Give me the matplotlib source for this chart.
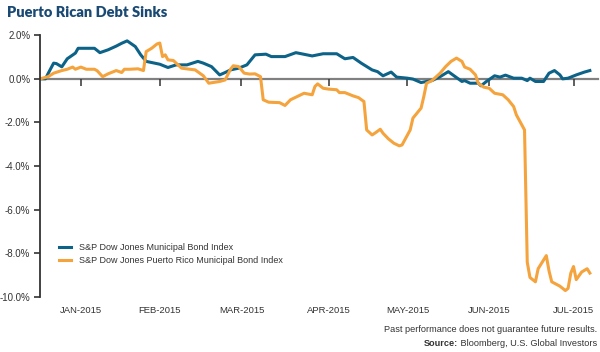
import pandas as pd
import matplotlib
matplotlib.use("Agg")
import matplotlib.pyplot as plt
from matplotlib.transforms import blended_transform_factory

muni_dates = [
    "2014-12-31", "2015-01-02", "2015-01-03", "2015-01-05", "2015-01-06", "2015-01-08",
    "2015-01-10", "2015-01-13", "2015-01-14", "2015-01-17", "2015-01-20", "2015-01-22",
    "2015-01-25", "2015-01-28", "2015-01-30", "2015-02-01", "2015-02-04", "2015-02-06",
    "2015-02-08", "2015-02-13", "2015-02-16", "2015-02-19", "2015-02-23", "2015-02-27",
    "2015-03-01", "2015-03-04", "2015-03-07", "2015-03-09", "2015-03-11", "2015-03-14",
    "2015-03-17", "2015-03-20", "2015-03-24", "2015-03-26", "2015-03-31", "2015-04-04",
    "2015-04-08", "2015-04-10", "2015-04-14", "2015-04-19", "2015-04-22", "2015-04-25",
    "2015-04-28", "2015-05-02", "2015-05-04", "2015-05-06", "2015-05-09", "2015-05-11",
    "2015-05-15", "2015-05-17", "2015-05-20", "2015-05-22", "2015-05-24", "2015-05-27",
    "2015-05-30", "2015-06-01", "2015-06-04", "2015-06-05", "2015-06-07", "2015-06-10",
    "2015-06-11", "2015-06-13", "2015-06-16", "2015-06-18", "2015-06-20", "2015-06-23",
    "2015-06-26", "2015-06-28", "2015-06-29", "2015-07-01", "2015-07-04", "2015-07-06",
    "2015-07-08", "2015-07-10", "2015-07-11", "2015-07-13", "2015-07-16", "2015-07-19",
    "2015-07-21",
]
muni_values = [
    0, 0, 0.25, 0.72, 0.7, 0.55, 0.92, 1.18, 1.4, 1.4,
    1.4, 1.2, 1.33, 1.5, 1.63, 1.74, 1.48, 1.1, 0.8, 0.67,
    0.52, 0.64, 0.64, 0.8, 0.72, 0.56, 0.18, 0.29, 0.41, 0.49,
    0.64, 1.1, 1.13, 1.02, 1.02, 1.2, 1.1, 1.05, 1.15, 1.15,
    0.92, 0.98, 0.72, 0.41, 0.33, 0.14, 0.31, 0.08, 0.03, -0.01,
    -0.17, -0.12, -0.08, 0.1, 0.33, 0.15, -0.12, -0.08, -0.2, -0.2,
    -0.32, -0.12, 0.14, 0.08, 0.17, 0.03, 0.03, -0.08, 0.03, -0.12,
    -0.12, 0.26, 0.38, 0.18, 0, 0.03, 0.18, 0.31, 0.38,
]

pr_dates = [
    "2014-12-31", "2015-01-03", "2015-01-05", "2015-01-08", "2015-01-10", "2015-01-12",
    "2015-01-13", "2015-01-15", "2015-01-17", "2015-01-20", "2015-01-21", "2015-01-23",
    "2015-01-25", "2015-01-28", "2015-01-30", "2015-01-31", "2015-02-02", "2015-02-05",
    "2015-02-07", "2015-02-08", "2015-02-10", "2015-02-12", "2015-02-13", "2015-02-14",
    "2015-02-15", "2015-02-16", "2015-02-18", "2015-02-19", "2015-02-21", "2015-02-24",
    "2015-02-26", "2015-03-01", "2015-03-03", "2015-03-07", "2015-03-09", "2015-03-11",
    "2015-03-12", "2015-03-14", "2015-03-16", "2015-03-18", "2015-03-20", "2015-03-22",
    "2015-03-23", "2015-03-25", "2015-03-29", "2015-03-31", "2015-04-02", "2015-04-05",
    "2015-04-07", "2015-04-10", "2015-04-11", "2015-04-12", "2015-04-14", "2015-04-16",
    "2015-04-19", "2015-04-20", "2015-04-22", "2015-04-25", "2015-04-27", "2015-04-29",
    "2015-04-30", "2015-05-02", "2015-05-03", "2015-05-05", "2015-05-06", "2015-05-08",
    "2015-05-10", "2015-05-12", "2015-05-13", "2015-05-14", "2015-05-16", "2015-05-17",
    "2015-05-20", "2015-05-21", "2015-05-22", "2015-05-24", "2015-05-27", "2015-05-29",
    "2015-05-31", "2015-06-02", "2015-06-04", "2015-06-05", "2015-06-07", "2015-06-09",
    "2015-06-10", "2015-06-12", "2015-06-14", "2015-06-16", "2015-06-19", "2015-06-21",
    "2015-06-23", "2015-06-24", "2015-06-26", "2015-06-27", "2015-06-28", "2015-06-29",
    "2015-07-01", "2015-07-02", "2015-07-04", "2015-07-05", "2015-07-06", "2015-07-07",
    "2015-07-10", "2015-07-12", "2015-07-13", "2015-07-14", "2015-07-15", "2015-07-16",
    "2015-07-18", "2015-07-20", "2015-07-21",
]
pr_values = [
    0, 0.1, 0.26, 0.38, 0.44, 0.54, 0.44, 0.54, 0.44, 0.44,
    0.37, 0.1, 0.23, 0.38, 0.29, 0.44, 0.44, 0.46, 0.38, 1.25,
    1.4, 1.6, 1.64, 1.02, 1.1, 0.87, 0.84, 0.72, 0.49, 0.44,
    0.41, 0.14, -0.2, -0.12, -0.05, 0.44, 0.6, 0.56, 0.26, 0.22,
    0.23, 0.1, -0.96, -1.07, -1.09, -1.22, -0.96, -0.78, -0.66, -0.73,
    -0.35, -0.23, -0.43, -0.47, -0.5, -0.63, -0.63, -0.78, -0.86, -1.04,
    -2.34, -2.57, -2.49, -2.31, -2.49, -2.75, -2.95, -3.07, -3.03, -2.8,
    -2.34, -1.8, -1.34, -0.81, -0.2, -0.08, 0.26, 0.56, 0.8, 0.95,
    0.8, 0.54, 0.44, 0.18, -0.2, -0.38, -0.43, -0.66, -0.73, -0.96,
    -1.27, -1.65, -2.11, -2.34, -8.4, -9.1, -9.3, -8.7, -8.3, -8.1,
    -8.8, -9.3, -9.5, -9.7, -9.6, -8.9, -8.6, -9.2, -8.85, -8.7,
    -8.9,
]

tick_dates = ["2015-01-15", "2015-02-13", "2015-03-15", "2015-04-16",
              "2015-05-15", "2015-06-14", "2015-07-15"]
tick_labels = ["JAN-2015", "FEB-2015", "MAR-2015", "APR-2015",
               "MAY-2015", "JUN-2015", "JUL-2015"]
y_ticks = [2, 0, -2, -4, -6, -8, -10]

BLUE = "#0d6288"
ORANGE = "#f5a33c"
TEXT = "#333333"

plt.rcParams["font.family"] = ["Liberation Sans", "DejaVu Sans"]

fig = plt.figure(figsize=(6, 3.52), dpi=100)
ax = fig.add_axes([0.0667, 0.156, 0.93, 0.744])

ax.plot(pd.to_datetime(muni_dates), muni_values, color=BLUE, lw=2.2,
        label="S&P Dow Jones Municipal Bond Index", solid_joinstyle="round")
ax.plot(pd.to_datetime(pr_dates), pr_values, color=ORANGE, lw=2.2,
        label="S&P Dow Jones Puerto Rico Municipal Bond Index", solid_joinstyle="round")

ax.set_xlim(pd.Timestamp("2014-12-31"), pd.Timestamp("2015-07-24"))
ax.set_ylim(-10, 2)

ax.set_yticks(y_ticks)
ax.set_yticklabels([f"{v:.1f}%" for v in y_ticks])
ax.tick_params(axis="y", length=4, width=1.2, color=TEXT, labelsize=7,
               labelcolor=TEXT, pad=3)

# zero line carries the x tick marks, labels sit under the plot
ax.spines["bottom"].set_position(("data", 0))
ax.spines["bottom"].set_color("#808080")
ax.spines["bottom"].set_linewidth(1.6)
ax.spines["bottom"].set_zorder(0)
ax.set_xticks(pd.to_datetime(tick_dates))
ax.tick_params(axis="x", length=5, width=1.1, color=TEXT, labelbottom=False)
trans = blended_transform_factory(ax.transData, ax.transAxes)
for d, lab in zip(pd.to_datetime(tick_dates), tick_labels):
    ax.text(d, -0.053, lab, transform=trans, ha="center", va="center",
            fontsize=6.8, color=TEXT)

ax.spines["left"].set_color(TEXT)
ax.spines["left"].set_linewidth(1.3)
ax.spines["top"].set_visible(False)
ax.spines["right"].set_visible(False)

ax.legend(loc="lower left", bbox_to_anchor=(0.02, 0.09), frameon=False,
          fontsize=6.5, handlelength=1.3, handletextpad=0.9, labelspacing=0.5,
          labelcolor=TEXT)

fig.text(0.012, 0.965, "Puerto Rican Debt Sinks", fontsize=10.5,
         fontweight="heavy", color="#1a4a74", family="Lato", va="center")

fig.text(0.995, 0.063, "Past performance does not guarantee future results.",
         ha="right", va="center", fontsize=6.6, color=TEXT)
src = fig.text(0.995, 0.023, " Bloomberg, U.S. Global Investors",
               ha="right", va="center", fontsize=6.6, color=TEXT)
fig.canvas.draw()
bb = src.get_window_extent(fig.canvas.get_renderer())
fig.text(bb.x0 / fig.bbox.width, 0.023, "Source:", ha="right", va="center",
         fontsize=6.6, fontweight="bold", color=TEXT)

fig.savefig("out.png", dpi=100)
